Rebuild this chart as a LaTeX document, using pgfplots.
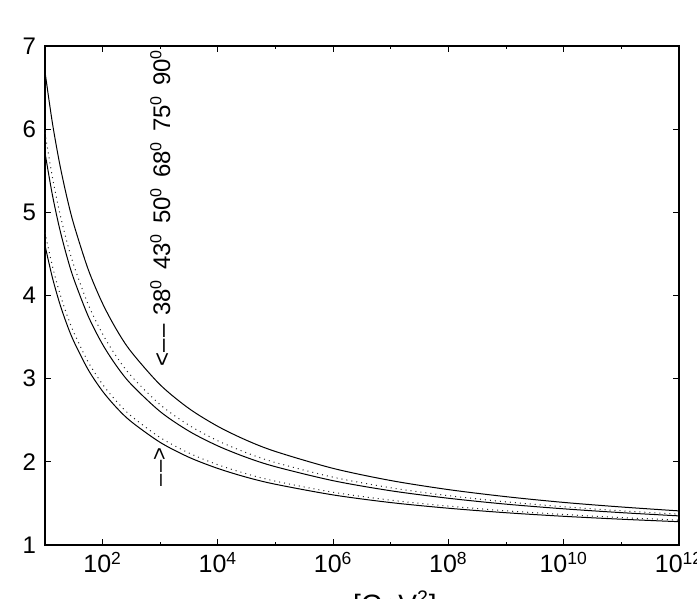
\documentclass[border=0pt]{standalone}
\usepackage{fontspec}
\setmainfont{Liberation Sans}
\usepackage{pgfplots}
\pgfplotsset{compat=1.18}
\usepackage{pgfplotstable}

\pgfplotstableread{
x top up mid lo bot
1e1 6.690 5.957 5.717 4.756 4.602
1.334e1 6.089 5.435 5.220 4.363 4.224
1.778e1 5.600 5.010 4.816 4.043 3.916
2.371e1 5.196 4.659 4.481 3.778 3.662
3.162e1 4.855 4.363 4.199 3.555 3.448
5.623e1 4.313 3.892 3.751 3.200 3.107
1e2 3.902 3.536 3.411 2.931 2.848
1.778e2 3.579 3.255 3.144 2.720 2.645
3.162e2 3.319 3.029 2.929 2.549 2.481
1e3 2.925 2.686 2.603 2.291 2.233
3.162e3 2.640 2.439 2.368 2.105 2.054
1e4 2.426 2.253 2.191 1.965 1.920
3.162e4 2.258 2.108 2.052 1.855 1.814
1e5 2.124 1.991 1.941 1.767 1.730
1e6 1.921 1.815 1.773 1.634 1.602
1e7 1.775 1.688 1.652 1.539 1.510
1e8 1.666 1.593 1.562 1.468 1.442
1e9 1.581 1.519 1.491 1.411 1.388
1e10 1.512 1.460 1.435 1.367 1.345
1e11 1.457 1.411 1.389 1.330 1.310
1e12 1.410 1.370 1.350 1.299 1.280
}\curves

\begin{document}
\begin{tikzpicture}
\begin{axis}[
  name=ax,
  scale only axis,
  width=317pt, height=249.5pt,
  xmode=log, log basis x=10,
  xmin=10, xmax=1e12, ymin=1, ymax=7,
  xtick={1e2,1e4,1e6,1e8,1e10,1e12},
  xticklabels={10\textsuperscript{2},10\textsuperscript{4},10\textsuperscript{6},10\textsuperscript{8},10\textsuperscript{10},10\textsuperscript{12}},
  minor xtick={1e3,1e5,1e7,1e9,1e11},
  ytick={1,2,3,4,5,6,7},
  /pgf/number format/assume math mode=true,
  tick align=inside,
  major tick length=3pt, minor tick length=1.5pt,
  axis line style={line width=0.6pt},
  every tick/.style={black, line width=0.5pt},
  xticklabel style={font=\fontsize{12.5}{14}\selectfont},
  yticklabel style={font=\fontsize{12}{14}\selectfont, xshift=-1pt},
  xlabel={[GeV\textsuperscript{2}]},
  xlabel style={at={(axis description cs:0.552,0)}, anchor=base, yshift=-35pt, font=\fontsize{14}{16}\selectfont},
]
\addplot[black, line width=0.5pt, smooth] table[x=x, y=top] {\curves};
\addplot[black!85, line width=0.5pt, dotted, smooth] table[x=x, y=up] {\curves};
\addplot[black, line width=0.5pt, smooth] table[x=x, y=mid] {\curves};
\addplot[black!85, line width=0.5pt, dotted, smooth] table[x=x, y=lo] {\curves};
\addplot[black, line width=0.5pt, smooth] table[x=x, y=bot] {\curves};
\node[rotate=90, anchor=west, inner sep=0pt, font=\fontsize{12}{14}\selectfont] at (axis cs:1000,3.14)
  {<\textendash\kern1pt\textendash\hspace{4pt}\makebox[23pt][l]{38\textsuperscript{0}}\makebox[23pt][l]{43\textsuperscript{0}}\makebox[23pt][l]{50\textsuperscript{0}}\makebox[23pt][l]{68\textsuperscript{0}}\makebox[23pt][l]{75\textsuperscript{0}}90\textsuperscript{0}};
\node[rotate=90, anchor=east, inner sep=0pt, font=\fontsize{11}{13}\selectfont] at (axis cs:1000,2.18)
  {\textendash\kern1pt\textendash>};
\end{axis}
\pgfresetboundingbox
\useasboundingbox ([shift={(-22.5pt,-27pt)}]ax.south west) rectangle ([shift={(9pt,23pt)}]ax.north east);
\end{tikzpicture}
\end{document}
